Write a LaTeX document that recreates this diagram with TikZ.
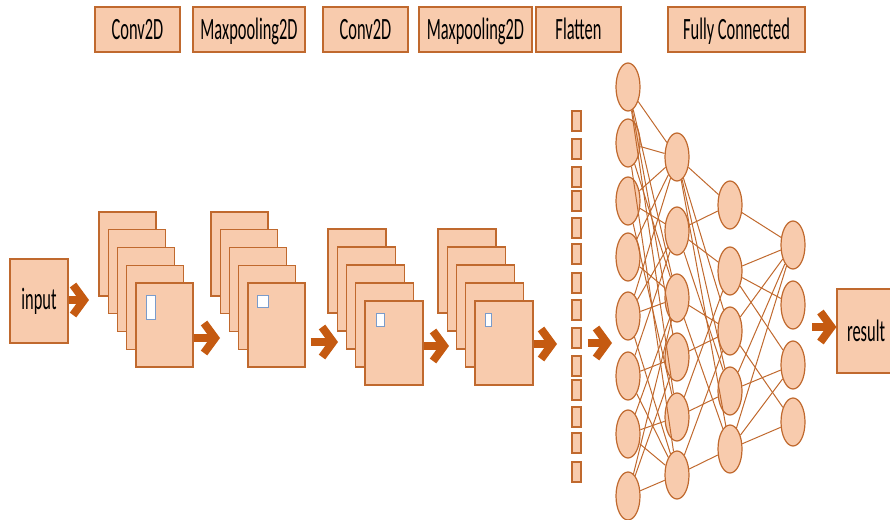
\documentclass[tikz,border=0pt]{standalone}
\usepackage{fontspec}
\setmainfont{Carlito}[FakeStretch=0.53]
\usetikzlibrary{shapes.geometric,arrows.meta}
\definecolor{peach}{HTML}{F8CBAD}
\definecolor{rust}{HTML}{C0692E}
\definecolor{arrowc}{HTML}{C55A11}
\definecolor{winb}{HTML}{7A9CCB}

\begin{document}
\begin{tikzpicture}[x=1pt,y=-1pt,
  box/.style={draw=rust, fill=peach, line width=1.2pt, inner sep=0pt,
    font=\fontsize{31}{33}\selectfont},
  label/.style={box, minimum height=45pt, text height=21pt, text depth=1pt},
  fmap/.style={draw=rust, fill=peach, line width=1.2pt, inner sep=0pt,
    minimum width=57pt, minimum height=84pt},
  window/.style={draw=winb, fill=white, line width=1pt, inner sep=0pt},
  cell/.style={draw=rust, fill=peach, line width=1.2pt, inner sep=0pt,
    minimum width=9pt, minimum height=20pt},
  neuron/.style={ellipse, draw=rust, fill=peach, line width=1.2pt, inner sep=0pt,
    minimum width=24pt, minimum height=48pt},
  edge/.style={draw=rust, line width=1pt},
  fatarrow/.style={draw=arrowc, line width=8pt,
    -{Straight Barb[length=11pt,width=30pt]}}]

\useasboundingbox (0,0) rectangle (890,519);

% layer titles
\node[label, minimum width=85pt]  (t1) at (137.5,29.5) {Conv2D};
\node[label, minimum width=112pt] (t2) at (249,29.5)   {Maxpooling2D};
\node[label, minimum width=85pt]  (t3) at (365.5,29.5) {Conv2D};
\node[label, minimum width=113pt] (t4) at (475.5,29.5) {Maxpooling2D};
\node[label, minimum width=85pt]  (t5) at (578.5,29.5) {Flatten};
\node[label, minimum width=137pt] (t6) at (736.5,29.5) {Fully Connected};

% input and output
\node[box, minimum width=58pt, minimum height=84pt] (in)  at (39,301)  {input};
\node[box, minimum width=58pt, minimum height=84pt] (out) at (866,331) {result};

% stacks of feature maps (back to front)
\foreach \k in {0,...,4} {
  \node[fmap] (s1r\k) at ({127.5+9.25*\k},{254+17.75*\k}) {};
}
\foreach \k in {0,...,4} {
  \node[fmap] (s2r\k) at ({239.5+9.25*\k},{254+17.75*\k}) {};
}
\foreach \k in {0,...,4} {
  \node[fmap, minimum width=58pt] (s3r\k) at ({357+9.25*\k},{271+18*\k}) {};
}
\foreach \k in {0,...,4} {
  \node[fmap, minimum width=58pt] (s4r\k) at ({467+9.25*\k},{271+18*\k}) {};
}

% kernel windows on the front maps
\node[window, minimum width=9pt,  minimum height=24pt] (w1) at (150.5,307) {};
\node[window, minimum width=11pt, minimum height=12pt] (w2) at (262.5,301) {};
\node[window, minimum width=8pt,  minimum height=13pt] (w3) at (380,319.5) {};
\node[window, minimum width=6pt,  minimum height=13pt] (w4) at (488,319.5) {};

% flattened vector
\foreach \y [count=\i] in {111,139,167,191,218,244,273,300,328,356,380,407,433,462} {
  \node[cell] (f\i) at (576.5,\y+10) {};
}

% fully connected layers
\foreach \y [count=\i] in {87,143,201,257,316,376,434,496}
  \node[neuron] (a\i) at (628,\y) {};
\foreach \y [count=\i] in {157,231,298,357,417,475}
  \node[neuron] (b\i) at (677,\y) {};
\foreach \y [count=\i] in {205,271,331,391,449}
  \node[neuron] (c\i) at (730,\y) {};
\foreach \y [count=\i] in {245,305,365,422}
  \node[neuron] (d\i) at (793,\y) {};

\foreach \s/\t in {a1/b1,a1/b3,a1/b4,a1/b5,
                   a2/b1,a2/b3,a2/b6,
                   a3/b1,a3/b2,a3/b5,
                   a4/b1,a4/b3,
                   a5/b1,a5/b2,a5/b3,a5/b6,
                   a6/b2,a6/b4,a6/b6,
                   a7/b3,a7/b5,a7/b6,
                   a8/b3,a8/b4,a8/b6,
                   b1/c1,b1/c3,b1/c4,b1/c5,
                   b2/c1,b2/c2,b2/c4,
                   b3/c3,b3/c5,
                   b4/c3,
                   b5/c2,b5/c4,
                   b6/c3,b6/c5,
                   c1/d1,c2/d1,c2/d2,c2/d3,
                   c3/d1,c3/d4,
                   c4/d1,c4/d3,
                   c5/d1,c5/d3,c5/d4}
  \draw[edge] (\s) -- (\t);

% arrows between stages
\coordinate (e0) at (89,300);
\coordinate (e1) at (220,338);
\coordinate (e2) at (338,342);
\coordinate (e3) at (449,346);
\coordinate (e4) at (557,344);
\coordinate (e5) at (612,343);
\draw[fatarrow] (in.east |- e0) -- (e0);
\draw[fatarrow] (s1r4.east |- e1) -- (e1);
\draw[fatarrow] ([xshift=5pt]s2r4.east |- e2) -- (e2);
\draw[fatarrow] (s3r4.east |- e3) -- (e3);
\draw[fatarrow] (s4r4.east |- e4) -- (e4);
\draw[fatarrow] ([xshift=6pt]f9.east |- e5) -- (e5);
\coordinate (r0) at (812,327);
\draw[fatarrow] (r0) -- (out.west |- r0);
\end{tikzpicture}
\end{document}
